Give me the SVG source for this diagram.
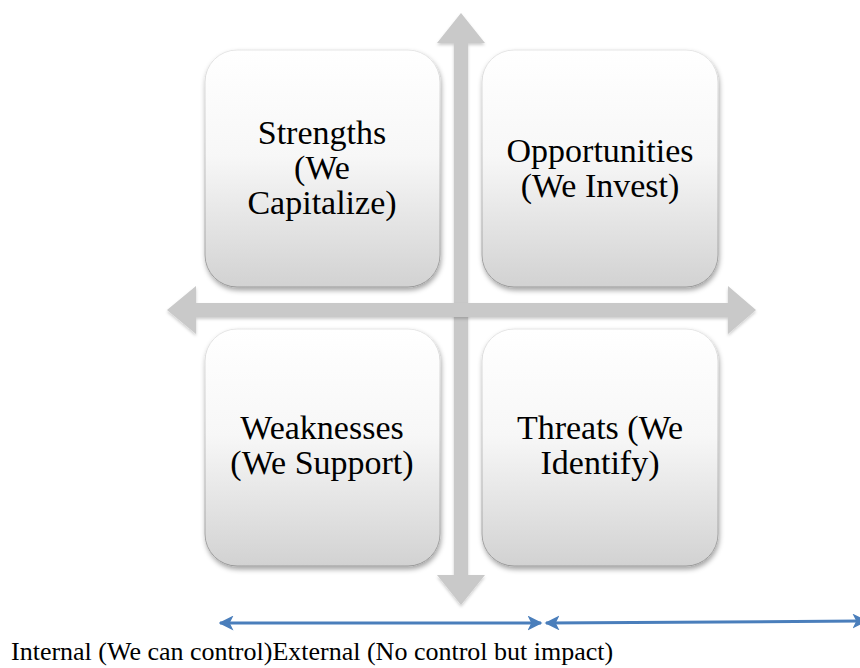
<svg xmlns="http://www.w3.org/2000/svg" width="860" height="668" viewBox="0 0 860 668">
<defs>
<linearGradient id="boxg" x1="0" y1="0" x2="0" y2="1">
<stop offset="0" stop-color="#ffffff"/>
<stop offset="0.45" stop-color="#f7f7f7"/>
<stop offset="1" stop-color="#d2d2d2"/>
</linearGradient>
<linearGradient id="edge" x1="0" y1="0" x2="0" y2="1">
<stop offset="0" stop-color="#e6e6e6"/>
<stop offset="1" stop-color="#9a9a9a"/>
</linearGradient>
<filter id="sh" x="-10%" y="-10%" width="125%" height="125%">
<feDropShadow dx="1" dy="3" stdDeviation="2.5" flood-color="#000" flood-opacity="0.35"/>
</filter>
<filter id="ash" x="-10%" y="-10%" width="125%" height="125%">
<feDropShadow dx="0" dy="2" stdDeviation="1.5" flood-color="#000" flood-opacity="0.2"/>
</filter>
<marker id="bh" viewBox="0 0 10 10" refX="9" refY="5" markerWidth="5" markerHeight="5" orient="auto-start-reverse" markerUnits="strokeWidth">
<path d="M0,0 L10,5 L0,10 L2.5,5 Z" fill="#4a7ebb"/>
</marker>
<style>
.box{fill:url(#boxg);stroke:url(#edge);stroke-width:1;filter:url(#sh)}
.lbl{font-family:"Liberation Serif","Times New Roman",serif;font-size:34px;fill:#000;text-anchor:middle}
.ax{fill:#c9c9c9;filter:url(#ash)}
.blue{stroke:#4a7ebb;stroke-width:3;fill:none;marker-start:url(#bh);marker-end:url(#bh)}
.foot{font-family:"Liberation Serif","Times New Roman",serif;font-size:26px;fill:#000}
</style>
</defs>
<rect width="860" height="668" fill="#ffffff"/>
<g id="connectors">
<path class="ax" d="M461,13 L485,43 L468,43 L468,575 L485,575 L461,605 L437,575 L454,575 L454,43 L437,43 Z"/>
<path class="ax" d="M167,310 L196,286 L196,303 L728,303 L728,286 L756,310 L728,334 L728,317 L196,317 L196,334 Z"/>
<line class="blue" x1="220" y1="623" x2="541" y2="623"/>
<line class="blue" x1="546" y1="623" x2="866" y2="621"/>
</g>
<g id="strengths">
<rect class="box" x="205" y="50" width="235" height="237" rx="32"/>
<text class="lbl" x="322" y="144">Strengths</text>
<text class="lbl" x="322" y="179">(We</text>
<text class="lbl" x="322" y="214">Capitalize)</text>
</g>
<g id="opportunities">
<rect class="box" x="482" y="50" width="236" height="237" rx="32"/>
<text class="lbl" x="600" y="162">Opportunities</text>
<text class="lbl" x="600" y="197">(We Invest)</text>
</g>
<g id="weaknesses">
<rect class="box" x="205" y="329" width="235" height="237" rx="32"/>
<text class="lbl" x="322" y="439">Weaknesses</text>
<text class="lbl" x="322" y="474">(We Support)</text>
</g>
<g id="threats">
<rect class="box" x="482" y="329" width="236" height="237" rx="32"/>
<text class="lbl" x="600" y="439">Threats (We</text>
<text class="lbl" x="600" y="474">Identify)</text>
</g>
<g id="footer">
<text class="foot" x="11" y="660">Internal (We can control)External (No control but impact)</text>
</g>
</svg>
